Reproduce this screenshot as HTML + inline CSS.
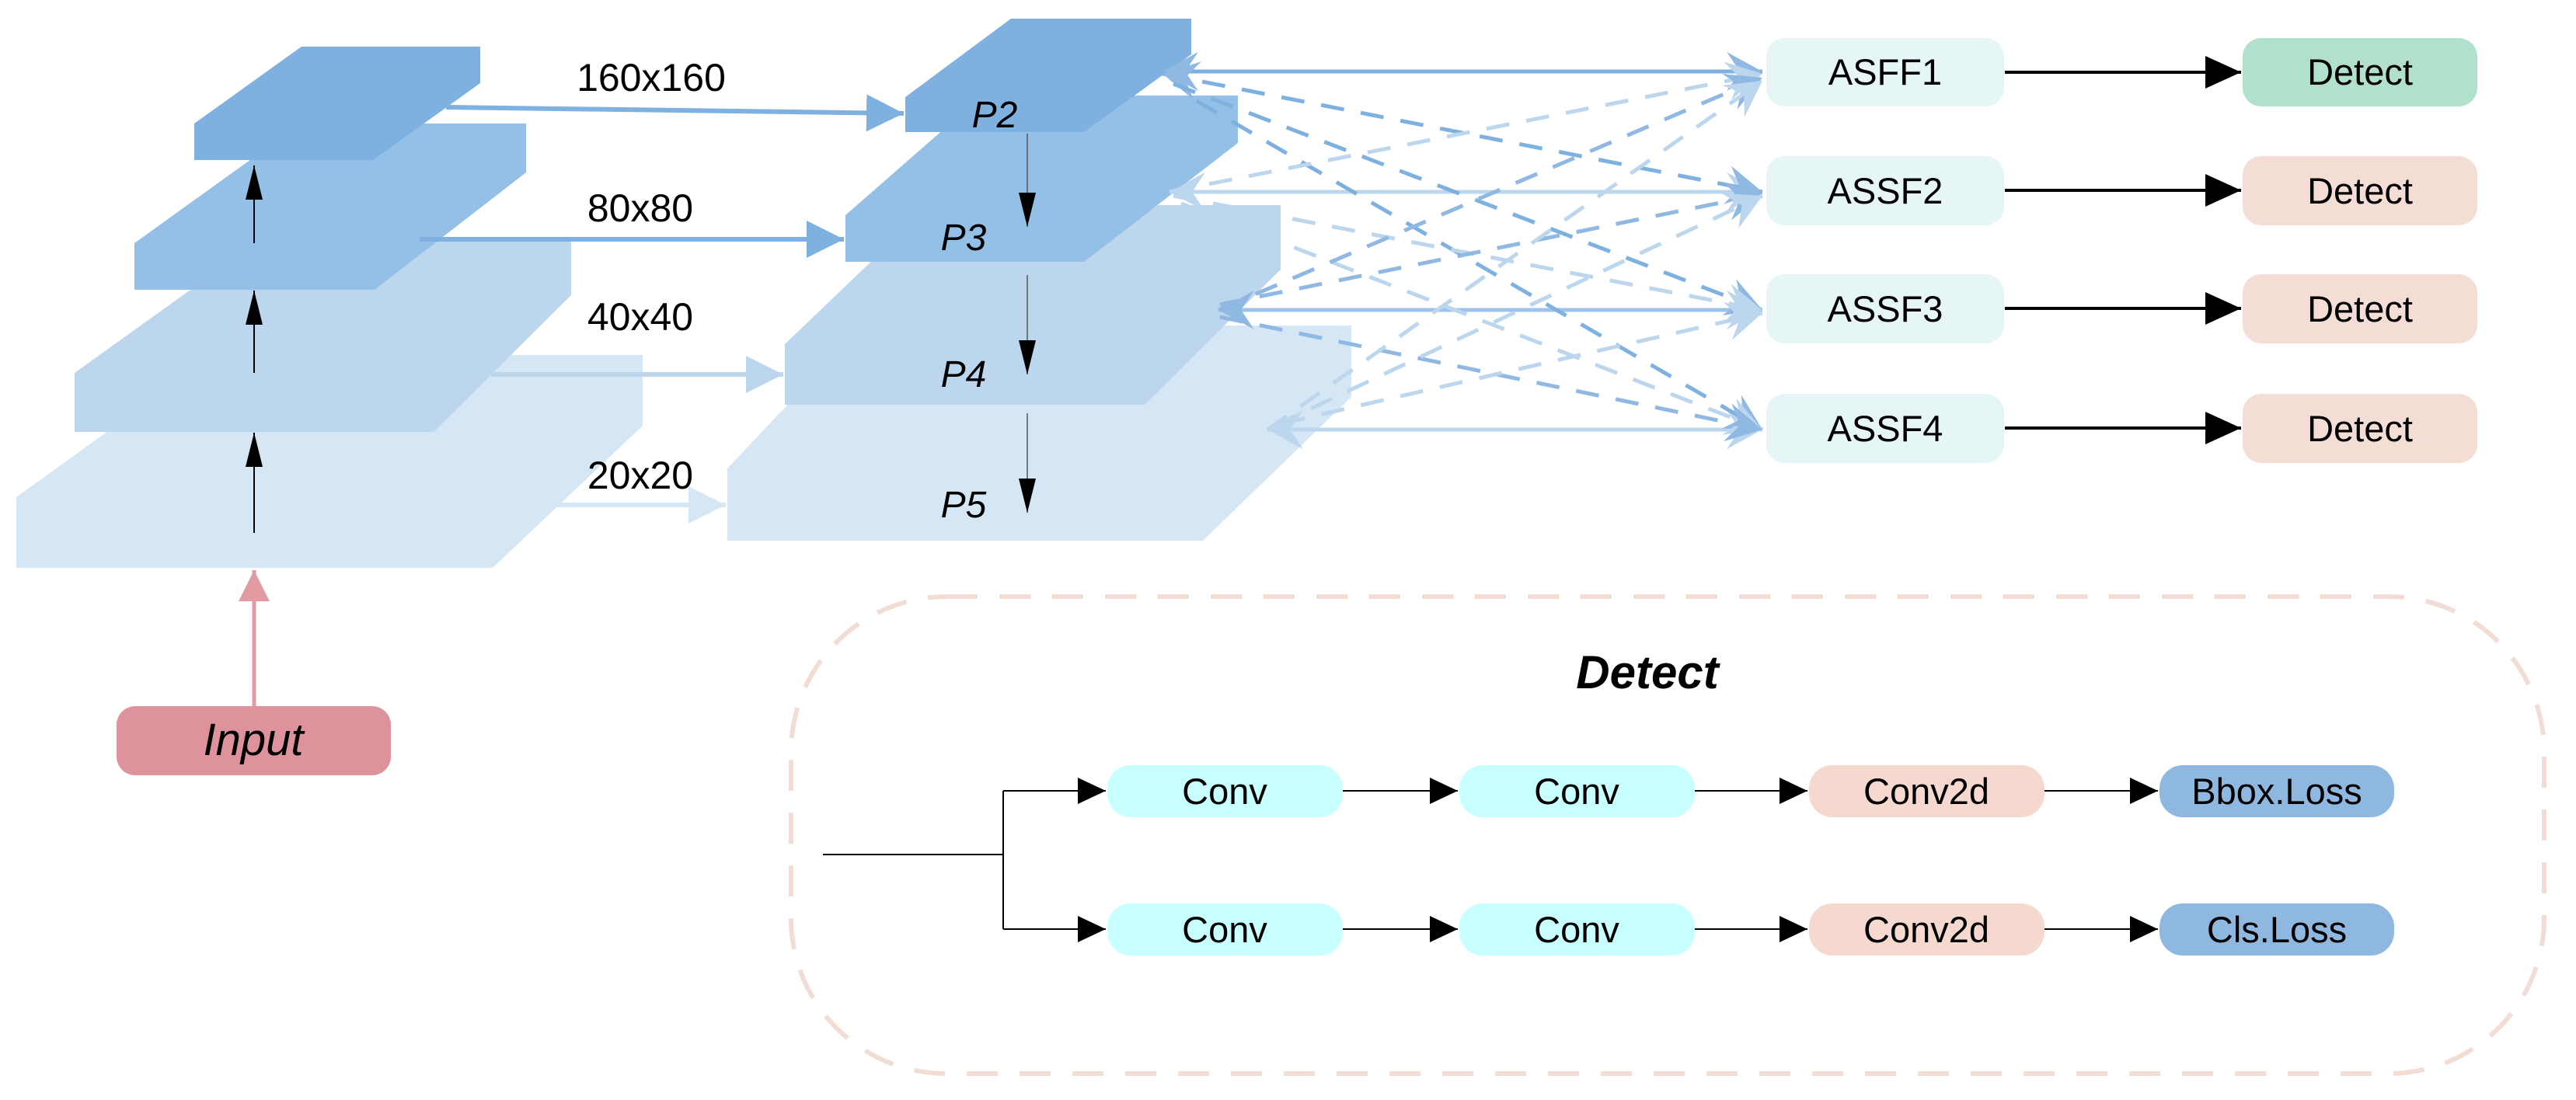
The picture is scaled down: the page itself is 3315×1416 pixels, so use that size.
<!DOCTYPE html>
<html><head><meta charset="utf-8"><style>
html,body{margin:0;padding:0;background:#fff;}
svg{display:block;}
text{font-family:"Liberation Sans",sans-serif;}
</style></head><body>
<svg width="3315" height="1416" viewBox="0 0 3315 1416" xmlns="http://www.w3.org/2000/svg">
<defs>
<marker id="sm" viewBox="0 0 44 22" refX="44" refY="11" markerWidth="44" markerHeight="22" markerUnits="userSpaceOnUse" orient="auto"><path d="M0,0 L44,11 L0,22 z" fill="#000"/></marker>
<marker id="ab2" viewBox="0 0 46 42" refX="46" refY="21" markerWidth="46" markerHeight="42" markerUnits="userSpaceOnUse" orient="auto"><path d="M0,0 L46,21 L0,42 z" fill="#000"/></marker>
<marker id="ab3" viewBox="0 0 36 34" refX="36" refY="17" markerWidth="36" markerHeight="34" markerUnits="userSpaceOnUse" orient="auto"><path d="M0,0 L36,17 L0,34 z" fill="#000"/></marker>
<marker id="mb1" viewBox="0 0 10 10" refX="10" refY="5" markerWidth="8" markerHeight="8" markerUnits="strokeWidth" orient="auto"><path d="M0,0 L10,5 L0,10 z" fill="#7eb0e0"/></marker>
<marker id="mb3" viewBox="0 0 10 10" refX="10" refY="5" markerWidth="8" markerHeight="8" markerUnits="strokeWidth" orient="auto"><path d="M0,0 L10,5 L0,10 z" fill="#bcd6ed"/></marker>
<marker id="mb4" viewBox="0 0 10 10" refX="10" refY="5" markerWidth="8" markerHeight="8" markerUnits="strokeWidth" orient="auto"><path d="M0,0 L10,5 L0,10 z" fill="#d5e6f4"/></marker>
<marker id="pk" viewBox="0 0 10 10" refX="10" refY="5" markerWidth="8" markerHeight="8" markerUnits="strokeWidth" orient="auto"><path d="M0,0 L10,5 L0,10 z" fill="#e29aa3"/></marker>
<marker id="oa1" viewBox="0 0 12 12" refX="11" refY="6" markerWidth="10" markerHeight="10" markerUnits="strokeWidth" orient="auto-start-reverse"><path d="M0,0 L11,6 L0,12 L4,6 z" fill="#8fb8e2"/></marker>
<marker id="oa2" viewBox="0 0 12 12" refX="11" refY="6" markerWidth="10" markerHeight="10" markerUnits="strokeWidth" orient="auto-start-reverse"><path d="M0,0 L11,6 L0,12 L4,6 z" fill="#bcd6ed"/></marker>
</defs>

<!-- left stack -->
<polygon points="21,640 275,457 827,457 827,548 634,731 21,731" fill="#d5e6f4"/>
<polygon points="96,480 333,310 735,310 735,380 558,556 96,556" fill="#bcd6ed"/>
<polygon points="173,313 387,159 677,159 677,222 482,373 173,373" fill="#94bfe6"/>
<polygon points="250,159 388,60 618,60 618,107 480,206 250,206" fill="#7eb0e0"/>

<line x1="327" y1="686" x2="327" y2="557" stroke="#000" stroke-width="2" marker-end="url(#sm)"/>
<line x1="327" y1="480" x2="327" y2="374" stroke="#000" stroke-width="2" marker-end="url(#sm)"/>
<line x1="327" y1="313" x2="327" y2="213" stroke="#000" stroke-width="2" marker-end="url(#sm)"/>
<line x1="327" y1="909" x2="327" y2="734" stroke="#e29aa3" stroke-width="5" marker-end="url(#pk)"/>
<rect x="150" y="909" width="353" height="89" rx="24" fill="#de939c"/>
<text x="326" y="972" font-size="58" font-style="italic" text-anchor="middle">Input</text>

<!-- right stack -->
<polygon points="936,603 1110,419 1739,419 1739,511 1548,696 936,696" fill="#d5e6f4"/>
<polygon points="1010,443 1197,264 1648,264 1648,347 1473,521 1010,521" fill="#bcd6ed"/>
<polygon points="1088,277 1264,123 1593,123 1593,184 1395,337 1088,337" fill="#94bfe6"/>
<polygon points="1165,125 1301,24 1533,24 1533,70 1395,170 1165,170" fill="#7eb0e0"/>

<text x="1280" y="164" font-size="48" font-style="italic" text-anchor="middle">P2</text>
<text x="1240" y="322" font-size="48" font-style="italic" text-anchor="middle">P3</text>
<text x="1240" y="498" font-size="48" font-style="italic" text-anchor="middle">P4</text>
<text x="1240" y="666" font-size="48" font-style="italic" text-anchor="middle">P5</text>
<line x1="1322" y1="172" x2="1322" y2="292" stroke="#555" stroke-width="1.5" marker-end="url(#sm)"/>
<line x1="1322" y1="354" x2="1322" y2="482" stroke="#555" stroke-width="1.5" marker-end="url(#sm)"/>
<line x1="1322" y1="532" x2="1322" y2="660" stroke="#555" stroke-width="1.5" marker-end="url(#sm)"/>

<!-- cross arrows -->
<line x1="574" y1="138" x2="1163" y2="146" stroke="#7eb0e0" stroke-width="6" marker-end="url(#mb1)"/>
<line x1="540" y1="308" x2="1086" y2="308" stroke="#7eb0e0" stroke-width="6" marker-end="url(#mb1)"/>
<line x1="632" y1="482" x2="1008" y2="482" stroke="#bcd6ed" stroke-width="6" marker-end="url(#mb3)"/>
<line x1="717" y1="650" x2="934" y2="650" stroke="#d5e6f4" stroke-width="6" marker-end="url(#mb4)"/>
<text x="838" y="117" font-size="50" text-anchor="middle">160x160</text>
<text x="824" y="285" font-size="50" text-anchor="middle">80x80</text>
<text x="824" y="425" font-size="50" text-anchor="middle">40x40</text>
<text x="824" y="629" font-size="50" text-anchor="middle">20x20</text>

<!-- ASFF mesh -->
<g fill="none" stroke-width="5">
<line x1="1496" y1="92" x2="2268" y2="92" stroke="#7eb0e0" marker-start="url(#oa1)" marker-end="url(#oa1)"/>
<line x1="1505" y1="247" x2="2268" y2="247" stroke="#bcd6ed" marker-start="url(#oa2)" marker-end="url(#oa2)"/>
<line x1="1568" y1="399" x2="2268" y2="399" stroke="#9cc3e8" marker-start="url(#oa1)" marker-end="url(#oa2)"/>
<line x1="1631" y1="553" x2="2268" y2="553" stroke="#bcd6ed" marker-start="url(#oa2)" marker-end="url(#oa2)"/>
<g stroke-dasharray="30,22">
<line x1="1496" y1="95" x2="2268" y2="247" stroke="#7eb0e0" marker-start="url(#oa1)" marker-end="url(#oa1)"/>
<line x1="1510" y1="108" x2="2268" y2="399" stroke="#7eb0e0" marker-end="url(#oa1)"/>
<line x1="1540" y1="130" x2="2268" y2="553" stroke="#7eb0e0" marker-end="url(#oa1)"/>
<line x1="1505" y1="247" x2="2268" y2="95" stroke="#bcd6ed" marker-end="url(#oa2)"/>
<line x1="1510" y1="252" x2="2268" y2="399" stroke="#bcd6ed" marker-end="url(#oa2)"/>
<line x1="1520" y1="262" x2="2268" y2="553" stroke="#bcd6ed" marker-end="url(#oa2)"/>
<line x1="1568" y1="399" x2="2268" y2="100" stroke="#8fb8e2" marker-end="url(#oa1)"/>
<line x1="1570" y1="392" x2="2268" y2="250" stroke="#8fb8e2" marker-end="url(#oa1)"/>
<line x1="1570" y1="408" x2="2268" y2="553" stroke="#8fb8e2" marker-end="url(#oa1)"/>
<line x1="1631" y1="553" x2="2268" y2="104" stroke="#bcd6ed" marker-end="url(#oa2)"/>
<line x1="1640" y1="548" x2="2268" y2="252" stroke="#bcd6ed" marker-end="url(#oa2)"/>
<line x1="1650" y1="545" x2="2268" y2="403" stroke="#bcd6ed" marker-end="url(#oa2)"/>
</g></g>

<!-- ASFF boxes -->
<g font-size="47" text-anchor="middle">
<rect x="2273" y="49" width="306" height="88" rx="24" fill="#e6f6f7"/><text x="2426" y="109">ASFF1</text>
<rect x="2273" y="201" width="306" height="89" rx="24" fill="#e6f6f7"/><text x="2426" y="262">ASSF2</text>
<rect x="2273" y="353" width="306" height="89" rx="24" fill="#e6f6f7"/><text x="2426" y="414">ASSF3</text>
<rect x="2273" y="507" width="306" height="89" rx="24" fill="#e6f6f7"/><text x="2426" y="568">ASSF4</text>
<rect x="2886" y="49" width="302" height="88" rx="24" fill="#b1e0cd"/><text x="3037" y="109">Detect</text>
<rect x="2886" y="201" width="302" height="89" rx="24" fill="#f3ddd5"/><text x="3037" y="262">Detect</text>
<rect x="2886" y="353" width="302" height="89" rx="24" fill="#f3ddd5"/><text x="3037" y="414">Detect</text>
<rect x="2886" y="507" width="302" height="89" rx="24" fill="#f3ddd5"/><text x="3037" y="568">Detect</text>
</g>
<g stroke="#000" stroke-width="4">
<line x1="2580" y1="93" x2="2884" y2="93" marker-end="url(#ab2)"/>
<line x1="2580" y1="245" x2="2884" y2="245" marker-end="url(#ab2)"/>
<line x1="2580" y1="397" x2="2884" y2="397" marker-end="url(#ab2)"/>
<line x1="2580" y1="551" x2="2884" y2="551" marker-end="url(#ab2)"/>
</g>

<!-- Detect panel -->
<rect x="1018" y="768" width="2256" height="614" rx="200" fill="none" stroke="#f2ddd5" stroke-width="6" stroke-dasharray="40,28"/>
<text x="2120" y="886" font-size="60" font-weight="bold" font-style="italic" text-anchor="middle">Detect</text>
<g stroke="#000" stroke-width="2" fill="none">
<line x1="1059" y1="1100" x2="1291" y2="1100"/>
<line x1="1291" y1="1018" x2="1291" y2="1196"/>
<line x1="1291" y1="1018" x2="1423" y2="1018" marker-end="url(#ab3)"/>
<line x1="1291" y1="1196" x2="1423" y2="1196" marker-end="url(#ab3)"/>
<line x1="1728" y1="1018" x2="1876" y2="1018" marker-end="url(#ab3)"/>
<line x1="1728" y1="1196" x2="1876" y2="1196" marker-end="url(#ab3)"/>
<line x1="2181" y1="1018" x2="2326" y2="1018" marker-end="url(#ab3)"/>
<line x1="2181" y1="1196" x2="2326" y2="1196" marker-end="url(#ab3)"/>
<line x1="2631" y1="1018" x2="2777" y2="1018" marker-end="url(#ab3)"/>
<line x1="2631" y1="1196" x2="2777" y2="1196" marker-end="url(#ab3)"/>
</g>
<g font-size="47" text-anchor="middle">
<rect x="1425" y="985" width="303" height="67" rx="30" fill="#c8ffff"/><text x="1576" y="1035">Conv</text>
<rect x="1878" y="985" width="303" height="67" rx="30" fill="#c8ffff"/><text x="2029" y="1035">Conv</text>
<rect x="2328" y="985" width="303" height="67" rx="30" fill="#f5d9cf"/><text x="2479" y="1035">Conv2d</text>
<rect x="2779" y="985" width="302" height="67" rx="30" fill="#8fb8e0"/><text x="2930" y="1035">Bbox.Loss</text>
<rect x="1425" y="1163" width="303" height="67" rx="30" fill="#c8ffff"/><text x="1576" y="1213">Conv</text>
<rect x="1878" y="1163" width="303" height="67" rx="30" fill="#c8ffff"/><text x="2029" y="1213">Conv</text>
<rect x="2328" y="1163" width="303" height="67" rx="30" fill="#f5d9cf"/><text x="2479" y="1213">Conv2d</text>
<rect x="2779" y="1163" width="302" height="67" rx="30" fill="#8fb8e0"/><text x="2930" y="1213">Cls.Loss</text>
</g>
</svg>
</body></html>
